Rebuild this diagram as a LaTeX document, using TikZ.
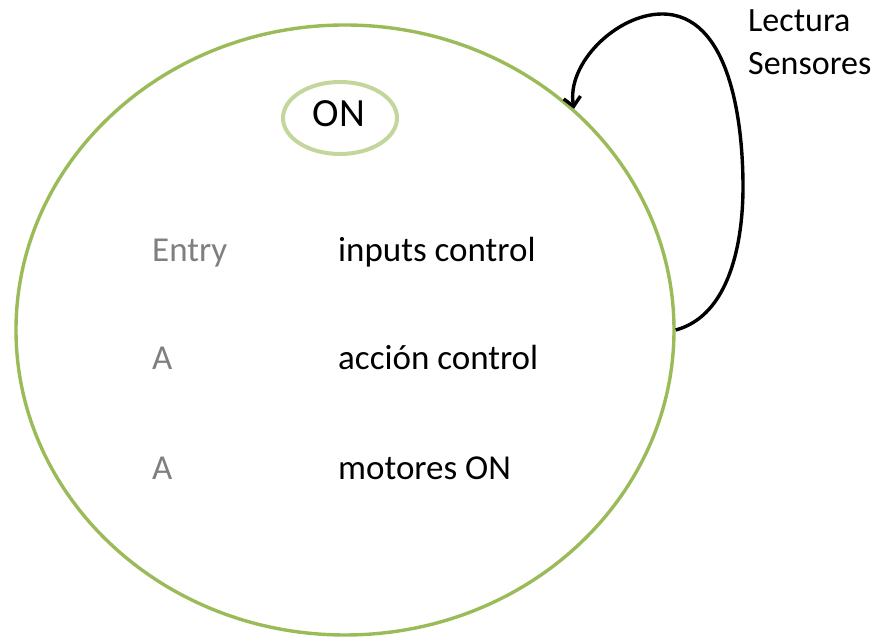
\documentclass[tikz,border=0pt]{standalone}
\usepackage{fontspec}
\setmainfont{Carlito}
\usetikzlibrary{shapes.geometric,arrows.meta}
\definecolor{stategreen}{RGB}{155,187,89}
\definecolor{ringgreen}{RGB}{195,214,155}
\definecolor{labelgray}{RGB}{127,127,127}
\tikzset{
  body/.style={font=\fontsize{35}{40}\selectfont, anchor=base west, inner sep=0pt},
  kind/.style={body, text=labelgray},
}
\begin{document}
\begin{tikzpicture}[x=1pt,y=1pt]
  \useasboundingbox (0,0) rectangle (879,637);
  % state outline
  \node[ellipse, draw=stategreen, line width=3.4pt, minimum width=658pt, minimum height=610pt, inner sep=0pt] (state) at (345,307) {};
  % state name
  \node[ellipse, draw=ringgreen, line width=4pt, minimum width=114pt, minimum height=72pt, inner sep=0pt] (namering) at (340,519) {};
  \node[font=\fontsize{40}{46}\selectfont, anchor=base, inner sep=0pt] (name) at (339,510) {ON};
  % internal activities
  \node[kind] (k1) at (152,375) {Entry};
  \node[body] (a1) at (338,375) {inputs control};
  \node[kind] (k2) at (152,267) {A};
  \node[body] (a2) at (338,267) {acción control};
  \node[kind] (k3) at (152,157) {A};
  \node[body] (a3) at (338,157) {motores ON};
  % self transition
  \coordinate (loopright) at (743,450);
  \coordinate (looptop) at (662,623);
  \draw[line width=3.4pt, -{Straight Barb[length=9pt,width=17pt]}]
    (state.east) to[out=15,in=-90,looseness=0.9] (loopright) to[out=90,in=0,looseness=0.9] (looptop) to[out=180,in=100,looseness=0.9] (state.44);
  \node[font=\fontsize{34}{43}\selectfont, align=left, anchor=north west, inner sep=0pt] (trig) at (748,628) {Lectura\\Sensores};
\end{tikzpicture}
\end{document}
